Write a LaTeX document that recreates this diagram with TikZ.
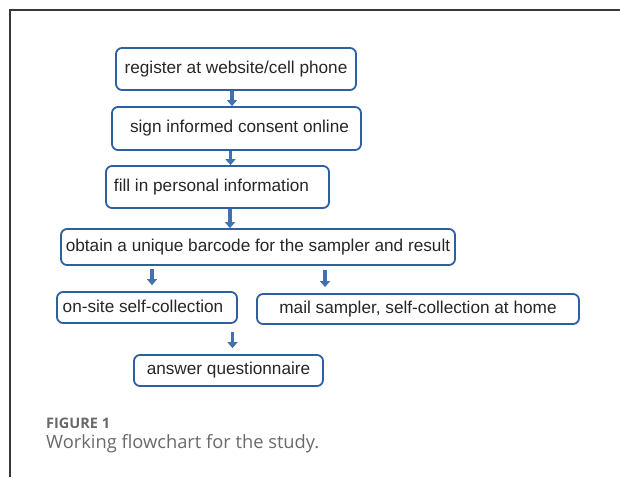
\documentclass[tikz,border=0pt]{standalone}
\usepackage{fontspec}
\setmainfont{Liberation Sans}
\newfontfamily\capfont{Open Sans}
\usepackage{xcolor}
\usetikzlibrary{arrows.meta,positioning,calc}
\definecolor{boxblue}{RGB}{46,95,160}
\definecolor{arrowblue}{RGB}{66,112,176}
\definecolor{capgray}{RGB}{105,105,105}
\definecolor{framegray}{RGB}{55,55,55}

\begin{document}
\begin{tikzpicture}[x=1pt,y=-1pt,
	stepbox/.style={draw=boxblue,line width=1.8pt,rounded corners=6pt,inner sep=0pt,text=black!85,font=\fontsize{17.2}{20}\selectfont},
	flow/.style={arrowblue,line width=3.4pt,-{Triangle[width=10pt,length=6pt]}}]
	\useasboundingbox (0,0) rectangle (620,477);
	\draw[framegray,line width=1.2pt] (620,10) -- (10,10) -- (10,477);
	% steps
	\node[stepbox,minimum width=240,minimum height=42] (reg) at (236,69) {\raisebox{3pt}{register at website/cell phone}};
	\node[stepbox,minimum width=249,minimum height=43] (sign) at (236.5,128.5) {\raisebox{3pt}{\hspace{6pt}sign informed consent online}};
	\node[stepbox,minimum width=223,minimum height=42] (fill) at (217.5,187) {\raisebox{2pt}{fill in personal information\hspace{12pt}}};
	\node[stepbox,minimum width=394,minimum height=36] (obtain) at (258,247) {\raisebox{2pt}{obtain a unique barcode for the sampler and result}};
	\node[stepbox,minimum width=180,minimum height=31] (onsite) at (147,307.5) {\raisebox{2pt}{on-site self-collection\hspace{8pt}}};
	\node[stepbox,minimum width=322,minimum height=30] (mail) at (418,309) {\raisebox{2pt}{mail sampler, self-collection at home}};
	\node[stepbox,minimum width=189,minimum height=31] (answer) at (228.5,370.5) {\raisebox{2pt}{answer questionnaire}};
	% arrows
	\draw[flow] ([xshift=-4pt]reg.south) -- ([xshift=-4pt]reg.south |- sign.north);
	\draw[flow] ([xshift=-6pt]sign.south) -- ([xshift=-6pt]sign.south |- fill.north);
	\draw[flow] ([xshift=12.5pt]fill.south) -- ([xshift=12.5pt]fill.south |- obtain.north);
	\draw[flow,shorten <=3pt,shorten >=6pt] ([xshift=5pt]onsite.north |- obtain.south) -- ([xshift=5pt]onsite.north);
	\draw[flow,shorten <=4pt,shorten >=6pt] ([xshift=-93pt]mail.north |- obtain.south) -- ([xshift=-93pt]mail.north);
	\draw[flow,shorten <=8pt,shorten >=6pt] ([xshift=4pt]answer.north |- onsite.south) -- ([xshift=4pt]answer.north);
	% caption
	\node[anchor=base west,inner sep=0pt,text=capgray,font=\capfont\fontsize{14.5}{16}\selectfont\bfseries] (fignum) at (46,428) {FIGURE 1};
	\node[anchor=base west,inner sep=0pt,text=capgray,font=\capfont\fontsize{18.3}{20}\selectfont] (figcap) at (46,448) {Working flowchart for the study.};
\end{tikzpicture}
\end{document}
